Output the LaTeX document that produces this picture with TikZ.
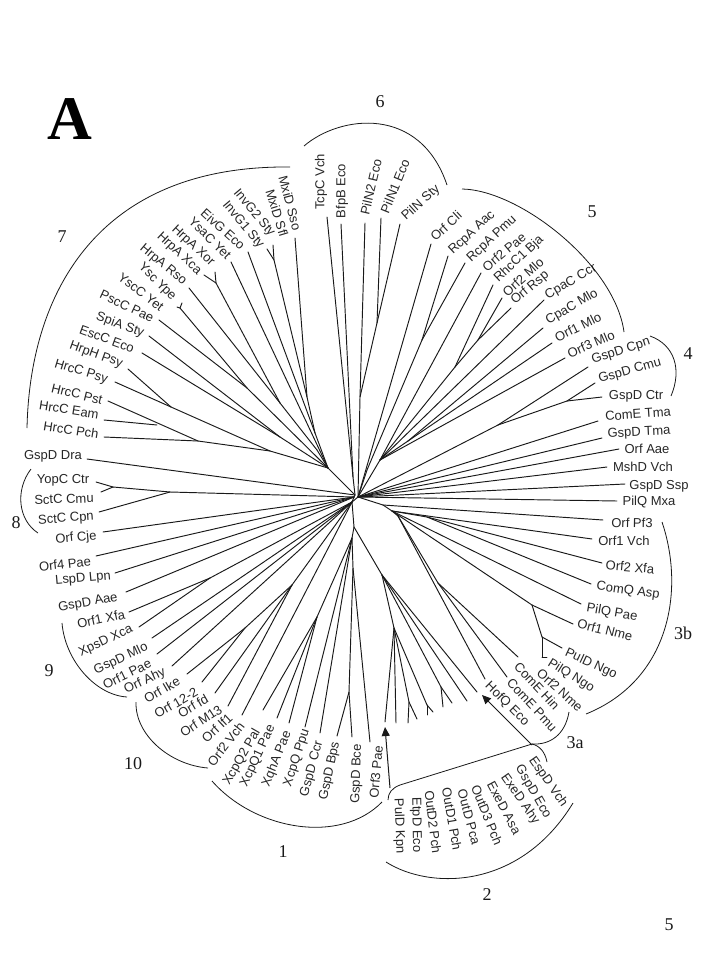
\documentclass[tikz,border=0pt]{standalone}
\usepackage{fontspec}
\setmainfont{Liberation Sans}
\newfontfamily\numfont{Liberation Serif}
\usetikzlibrary{arrows.meta}
\tikzset{
  br/.style={line width=0.95pt,black!90,line cap=round},
  arcline/.style={line width=0.8pt,black!90},
  arrowline/.style={line width=1pt,black!90,-{Triangle[length=9pt,width=8pt]}},
  taxon/.style={font=\fontsize{13}{13}\selectfont,text=black!85,inner sep=0pt,anchor=center},
  cladeno/.style={font=\numfont\fontsize{18}{18}\selectfont,text=black!90,inner sep=0pt,anchor=center}
}
\begin{document}
\begin{tikzpicture}[x=1pt,y=-1pt]
\useasboundingbox (0,0) rectangle (720,960);
% taxon labels
\foreach \n/\x/\y/\r/\t in {
 a1/71/430/-9/HrcC Pch,a2/69/410/-9/HrcC Eam,a3/77/394/-14/HrcC Pst,a4/81/372/-17/HrcC Psy,
 a5/96/355/-20/HrpH Psy,a6/107/339/-20/EscC Eco,a7/120/325/-20/SpiA Sty,a8/127/306/-25/PscC Pae,
 a9/141/292/-37/YscC Yet,a10/157/282/-45/Ysc Ype,a11/163/265/-40/HrpA Rso,a12/179/254/-43/HrpA Xca,
 a13/193/246/-43/HrpA Xor,a14/210/238/-45/YsaC Yet,a15/223/229/-42/EivG Eco,a16/243/225/-50/InvG1 Sty,
 a17/254/213/-50/InvG2 Sty,a18/277/213/-73/MxiD Sfl,a19/290/203/-75/MxiD Sso,
 b1/321/182/90/TcpC Vch,b2/342/191/90/BfpB Eco,b3/371/187/77/PilN2 Eco,b4/395/186/68/PilN1 Eco,b5/421/203/42/PilN Sty,
 c1/446/226/43/Orf Cli,c2/472/233/43/RcpA Aac,c3/492/239/43/RcpA Pmu,c4/504/252/40/Orf2 Pae,c5/519/259/43/RhcC1 Bja,
 c6/523/277/42/Orf2 Mlo,c7/530/288/40/Orf Rsp,c8/571/282/30/CpaC Ccr,c9/572/307/30/CpaC Mlo,c10/578/327/26/Orf1 Mlo,
 c11/591/344/23/Orf3 Mlo,d1/621/351/18/GspD Cpn,d2/630/371/16/GspD Cmu,d3/636/396/0/GspD Ctr,
 e1/638/414/4/ComE Tma,e2/639/433/3/GspD Tma,e3/647/449/0/Orf Aae,e4/643/467/0/MshD Vch,e5/659/486/0/GspD Ssp,e6/649/502/0/PilQ Mxa,
 f1/632/523/-1/Orf Pf3,f2/624/541/0/Orf1 Vch,f3/630/567/-5/Orf2 Xfa,f4/628/591/-8/ComQ Asp,f5/612/613/-10/PilQ Pae,
 f6/605/630/-14/Orf1 Nme,f7/591/664/-25/PulD Ngo,f8/571/676/-32/PilQ Ngo,f9/560/690/-42/Orf2 Nme,
 g1/537/686/-47/ComE Hin,g2/532/705/-47/ComE Pmu,g3/507/704/-45/HofQ Eco,
 h1/548/782/-55/EspD Vch,h2/533/792/-60/GspD Eco,h3/520/799/-55/ExeD Ahy,h4/504/808/-62/ExeD Asa,h5/487/815/-68/OutD3 Pch,
 h6/469/817/-75/OutD Pca,h7/452/819/-80/OutD1 Pch,h8/433/822/-83/OutD2 Pch,h9/416/825/-89/EtpD Eco,h10/399/826/-88/PulD Kpn,
 i1/376/772/85/Orf3 Pae,i2/357/774/88/GspD Bce,i3/330/771/78/GspD Bps,i4/312/769/75/GspD Ccr,i5/297/758/72/XcpQ Ppu,
 i6/277/759/68/XqhA Pae,i7/258/756/65/XcpQ1 Pae,i8/242/757/60/XcpQ2 Pal,i9/226/744/52/Orf2 Vch,i10/217/728/43/Orf If1,
 i11/201/721/33/Orf M13,i12/193/706/30/Orf fd,i13/176/703/30/Orf 12-2,i14/162/690/30/Orf Ike,i15/145/681/25/Orf Ahy,
 i16/127/674/26/Orf1 Pae,i17/121/659/25/GspD Mlo,i18/106/641/25/XpsD Xca,i19/101/619/12/Orf1 Xfa,i20/88/603/10/GspD Aae,
 i21/83/579/5/LspD Lpn,i22/65/564/6/Orf4 Pae,i23/76/538/5/Orf Cje,i24/66/519/4/SctC Cpn,i25/64/499/2/SctC Cmu,
 i26/63/480/0/YopC Ctr,i27/53/456/0/GspD Dra}
 {\node[taxon,rotate=\r] (\n) at (\x,\y) {\t};}
% clade numbers
\foreach \n/\x/\y/\t in {n6/380/102/6,n5/592/212/5,n7/62/237/7,n4/688/354/4,n8/16/523/8,n9/49/671/9,
 n10/133/764/10,n3b/683/633/3b,n3a/575/743/3a,n1/283/852/1,n2/487/895/2,pg/669/925/5}
 {\node[cladeno] (\n) at (\x,\y) {\t};}
\node[font=\numfont\bfseries\fontsize{62}{62}\selectfont,inner sep=0pt] (panel) at (70,119) {A};
% tree coordinates
\foreach \n/\x/\y in {
 H/355/495,Hb/354/497,R/358/497,L/352/502,jB/354/527,
 j7/328/468,jE/280/437,jRs/280/403,jFk/216/283,jYe/180/308,jPs/247/388,jInv/315/433,jMx/307/397,jMs/274/260,
 jA/198/441,jBb/171/407,jC/270/451,jD/157/425,jRo/317/450,
 tA1/104/437,tA2/104/420,tA3/108/401,tA4/115/382,tA5/128/369,tA6/142/353,tA7/149/336,tA8/159/320,
 tA9/177/307,tA10/182/303,tA11/189/288,tA12/204/275,tA13/215/272,tA14/231/262,tA15/248/252,tA16/267/249,tA17/273/245,tA18/295/238,
 jT/353/477,tB1/327/217,tB2/341/224,tB3/365/223,tB4/381/218,tB5/400/224,jN1/377/323,jN2/360/397,
 tC1/431/244,tC2/448/256,tC3/465/263,tC4/481/273,tC5/493/285,tC6/502/298,tC7/511/308,tC8/544/300,tC9/543/328,tC10/552/343,tC11/565/358,
 jRc/422/340,jRd/367/470,jR1/478/340,jR2/455/367,j5/380/460,j5b/408/441,
 tD1/588/367,tD2/595/383,tD3/602/397,jD1/567/401,jD2/498/425,
 tE1/598/421,tE2/602/438,tE3/619/449,tE4/607/467,tE5/625/484,tE6/617/501,
 jP/383/505,jP2/392/511,jV/398/516,jQ/427/517,jN/532/605,jPu/542/637,jPv/542/657,
 tF1/603/520,tF2/592/539,tF3/602/563,tF4/591/584,tF5/581/604,tF6/573/624,tF7/562/648,tF8/547/657,
 jCE/438/583,tG1/518/657,tG2/507/677,tG3/485/679,
 jF/382/575,jG/441/687,jH/394/628,jK1/409/702,jK2/427/705,
 tM1/477/692,tM2/467/701,tM3/452/703,tM4/443/707,tM5/433/712,tM6/427/715,tM7/417/719,tM8/408/723,tM9/396/723,tM10/385/722,
 jL/352/538,jM/353/568,jBp/349/692,j317/317/617,
 tI1/370/742,tI2/352/737,tI3/337/736,tI4/320/733,tI5/305/727,tI6/289/723,tI7/277/718,tI8/263/710,
 tI9/242/715,tI10/228/706,tI11/215/693,tI12/202/682,tI13/187/674,tI14/172/666,tI15/157/654,tI16/152/638,tI17/139/627,tI18/129/612,
 tI19/126/592,tI20/115/573,tI21/96/556,tI22/103/532,tI23/99/512,tI24/101/492,tI25/96/482,tI26/87/459,
 jI/245/628,jO/292/585,jX/210/578,jS/170/492,jYo/113/487,
 p1/27/428,p2/290/167,q1/304/146,q2/447/185,r1/462/189,r2/624/332,s1/650/336,s2/671/396,u1/662/522,u2/586/714,
 v1/569/712,v2/532/744,w1/547/762,w2/400/785,w3/388/800,x1/386/862,x2/573/803,
 y1/212/781,y2/382/802,z1/136/702,z2/208/768,z3/62/623,z4/127/697,z5/31/469,z6/38/533,
 aw1/532/745,aw2/482/695,ax1/390/788,ax2/385/727}
 {\coordinate (\n) at (\x,\y);}
% branches
\foreach \a/\b in {
 H/j7,j7/jE,jE/tA7,jE/tA6,j7/jRo,jRo/jRs,jRs/tA11,jRs/jFk,jFk/tA12,jFk/tA13,
 j7/jPs,jPs/tA8,jPs/jYe,jYe/tA9,jYe/tA10,j7/tA14,j7/jInv,jInv/tA15,jInv/jMx,jMx/tA18,jMx/jMs,jMs/tA16,jMs/tA17,
 j7/jC,jC/jA,jA/tA1,jA/tA3,jD/tA2,jC/jBb,jBb/tA4,jBb/tA5,
 H/jT,jT/tB1,jT/tB2,R/jN2,jN2/tB3,jN2/jN1,jN1/tB4,jN1/tB5,
 R/j5,R/tC1,R/jRd,jRd/jRc,jRc/tC2,jRc/tC3,j5/tC4,j5/jR2,jR2/tC5,jR2/jR1,jR1/tC6,jR1/tC7,
 j5/tC8,j5/j5b,j5b/tC9,j5b/tC10,j5/tC11,
 R/jD2,jD2/tD1,jD2/jD1,jD1/tD2,jD1/tD3,
 R/tE1,R/tE2,R/tE3,R/tE4,R/tE5,R/tE6,
 R/jP,jP/jP2,jP2/jV,jP/tF1,jP2/tF2,jP2/jQ,jQ/tF3,jQ/tF4,jP2/tF5,jP2/jN,jN/tF6,jN/jPu,jPu/tF7,jPu/jPv,jPv/tF8,
 jV/tG3,jV/jCE,jCE/tG1,jCE/tG2,
 R/L,H/Hb,Hb/L,L/jB,jB/jF,jF/tM1,jF/tM2,jF/jG,jG/tM3,jG/tM4,jF/jH,jH/tM10,jH/tM9,jH/jK1,jK1/tM8,jK1/tM7,jH/jK2,jK2/tM6,jK2/tM5,
 jB/jL,jL/j317,j317/tI6,j317/tI7,j317/tI8,jL/tI5,jL/tI4,jL/jM,jM/tI1,jM/jBp,jBp/tI2,jBp/tI3,
 L/tI9,L/jO,jO/tI10,jO/tI11,jO/jI,jI/tI12,jI/tI13,L/tI14,L/tI15,L/tI16,L/jX,jX/tI17,jX/tI18,
 Hb/tI19,Hb/tI20,Hb/tI21,Hb/tI22,Hb/jS,jS/tI23,jS/jYo,jYo/tI24,jYo/tI25,H/tI26}
 {\draw[br] (\a) -- (\b);}
% clade arcs
\draw[arcline] (p1) .. controls (30,290) and (100,165) .. (p2);
\draw[arcline] (q1) .. controls (340,115) and (420,105) .. (q2);
\draw[arcline] (r1) .. controls (520,190) and (615,265) .. (r2);
\draw[arcline] (s1) .. controls (675,345) and (682,370) .. (s2);
\draw[arcline] (u1) .. controls (685,590) and (670,680) .. (u2);
\draw[arcline] (v1) .. controls (565,735) and (550,745) .. (v2);
\draw[arcline] (w1) .. controls (545,752) and (540,746) .. (v2) -- (w2) .. controls (392,788) and (388,793) .. (w3);
\draw[arcline] (x1) .. controls (430,890) and (520,890) .. (x2);
\draw[arcline] (y1) .. controls (255,830) and (340,845) .. (y2);
\draw[arcline] (z1) .. controls (135,735) and (170,765) .. (z2);
\draw[arcline] (z3) .. controls (65,660) and (95,695) .. (z4);
\draw[arcline] (z5) .. controls (15,490) and (18,520) .. (z6);
% arrows
\draw[arrowline] (aw1) -- (aw2);
\draw[arrowline] (ax1) -- (ax2);
\end{tikzpicture}
\end{document}
